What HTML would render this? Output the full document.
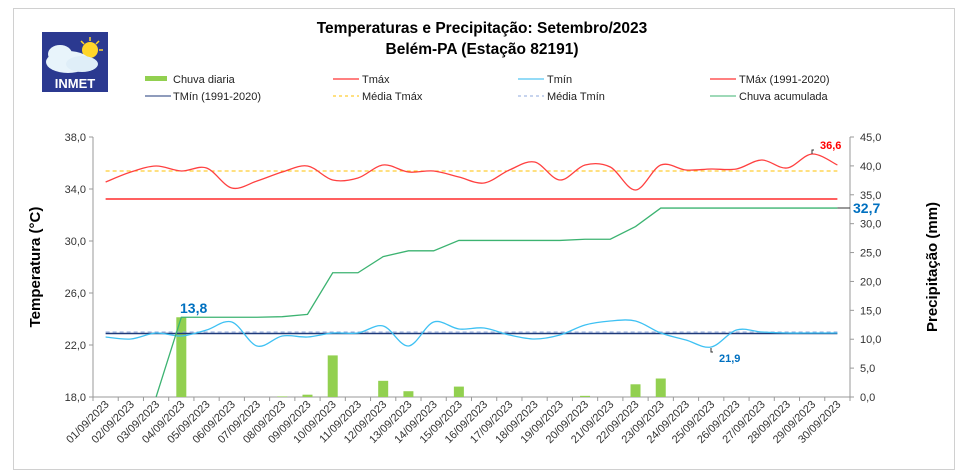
<!DOCTYPE html>
<html><head><meta charset="utf-8"><style>
html,body{margin:0;padding:0;background:#fff;}
svg{display:block;font-family:"Liberation Sans",Arial,sans-serif;}
</style></head><body>
<svg id="s" width="964" height="476" viewBox="0 0 964 476" xmlns="http://www.w3.org/2000/svg">
<rect x="13.5" y="8.5" width="941" height="461" fill="#fff" stroke="#d0d0d0"/>
<!-- logo -->
<rect x="42" y="32" width="66" height="60" fill="#2b3990"/>
<circle cx="90" cy="50" r="8" fill="#ffd52a"/>
<g stroke="#ffd52a" stroke-width="1.5"><line x1="90" y1="37" x2="90" y2="41"/><line x1="99" y1="41" x2="96" y2="44"/><line x1="103" y1="50" x2="99" y2="50"/><line x1="81" y1="41" x2="84" y2="44"/></g>
<ellipse cx="68" cy="62" rx="22" ry="11" fill="#e8f4fb"/><ellipse cx="60" cy="54" rx="12" ry="9" fill="#e8f4fb"/><ellipse cx="82" cy="64" rx="16" ry="8" fill="#dfeef8"/>
<text x="75" y="88" font-size="13" font-weight="bold" fill="#fff" text-anchor="middle">INMET</text>
<text x="482" y="33" font-size="15.5" font-weight="bold" text-anchor="middle" fill="#000">Temperaturas e Precipitação: Setembro/2023</text>
<text x="482" y="54" font-size="15.5" font-weight="bold" text-anchor="middle" fill="#000">Belém-PA (Estação 82191)</text>
<g font-size="11" fill="#222">
<rect x="145" y="76" width="22" height="5" fill="#92d050"/><text x="173" y="83">Chuva diaria</text>
<line x1="333" y1="79" x2="359" y2="79" stroke="#ff0000"/><text x="362" y="83">Tmáx</text>
<line x1="518" y1="79" x2="544" y2="79" stroke="#2ab7ef"/><text x="547" y="83">Tmín</text>
<line x1="710" y1="79" x2="736" y2="79" stroke="#ff0000"/><text x="739" y="83">TMáx (1991-2020)</text>
<line x1="145" y1="96" x2="171" y2="96" stroke="#1f3a7a"/><text x="173" y="100">TMín (1991-2020)</text>
<line x1="333" y1="96" x2="359" y2="96" stroke="#ffc000" stroke-dasharray="3,3"/><text x="362" y="100">Média Tmáx</text>
<line x1="518" y1="96" x2="544" y2="96" stroke="#8fa9dc" stroke-dasharray="3,3"/><text x="547" y="100">Média Tmín</text>
<line x1="710" y1="96" x2="736" y2="96" stroke="#3cb371"/><text x="739" y="100">Chuva acumulada</text>
</g>
<g id="plot"></g>
<text transform="translate(40,267) rotate(-90)" font-size="15" font-weight="bold" text-anchor="middle">Temperatura (°C)</text>
<text transform="translate(937,267) rotate(-90)" font-size="15" font-weight="bold" text-anchor="middle">Precipitação (mm)</text>
</svg>
<script>
var g=document.getElementById('plot'),h='';
var X0=93,X1=850,Y0=137,Y1=397,W=(X1-X0)/30;
function cx(i){return X0+W*(i-0.5);}
function ty(t){return Y1-(t-18)*13;}
function py(p){return Y1-p*(Y1-Y0)/45;}
// axes
h+='<line x1="'+X0+'" y1="'+Y0+'" x2="'+X0+'" y2="'+Y1+'" stroke="#999"/>';
h+='<line x1="'+X1+'" y1="'+Y0+'" x2="'+X1+'" y2="'+Y1+'" stroke="#999"/>';
h+='<line x1="'+X0+'" y1="'+Y1+'" x2="'+X1+'" y2="'+Y1+'" stroke="#999"/>';
for(var t=18;t<=38;t+=4){var y=ty(t);h+='<line x1="'+(X0-4)+'" y1="'+y+'" x2="'+X0+'" y2="'+y+'" stroke="#999"/><text x="'+(X0-7)+'" y="'+(y+4)+'" font-size="11" text-anchor="end" fill="#333">'+t+',0</text>';}
for(var p=0;p<=45;p+=5){var y=py(p);h+='<line x1="'+X1+'" y1="'+y+'" x2="'+(X1+4)+'" y2="'+y+'" stroke="#999"/><text x="'+(X1+10)+'" y="'+(y+4)+'" font-size="11" fill="#333">'+p+',0</text>';}
for(var i=0;i<=30;i++){var x=X0+W*i;h+='<line x1="'+x+'" y1="'+Y1+'" x2="'+x+'" y2="'+(Y1+4)+'" stroke="#999"/>';}
for(var i=1;i<=30;i++){var d=(i<10?'0':'')+i+'/09/2023';var x=cx(i)+4;h+='<text transform="translate('+x+','+(Y1+8)+') rotate(-45)" font-size="11" text-anchor="end" fill="#333">'+d+'</text>';}
// bars
var rain={4:13.8,8:0.1,9:0.4,10:7.2,12:2.8,13:1.0,15:1.8,20:0.2,22:2.2,23:3.2};
for(var k in rain){var x=cx(+k),y=py(rain[k]);h+='<rect x="'+(x-5)+'" y="'+y+'" width="10" height="'+(Y1-y)+'" fill="#92d050"/>';}
// normals
h+='<line x1="'+cx(1)+'" y1="199" x2="'+cx(30)+'" y2="199" stroke="#ff0000" stroke-width="1.3"/>';
h+='<line x1="'+cx(1)+'" y1="171" x2="'+cx(30)+'" y2="171" stroke="#ffc000" stroke-dasharray="4,3"/>';
h+='<line x1="'+cx(1)+'" y1="333.5" x2="'+cx(30)+'" y2="333.5" stroke="#1f3a7a" stroke-width="1.6"/>';
h+='<line x1="'+cx(1)+'" y1="332" x2="'+cx(30)+'" y2="332" stroke="#8fa9dc" stroke-dasharray="4,3"/>';
function smooth(pts){var s='M'+pts[0][0]+','+pts[0][1];for(var i=0;i<pts.length-1;i++){var p0=pts[i-1]||pts[i],p1=pts[i],p2=pts[i+1],p3=pts[i+2]||p2;var c1=[p1[0]+(p2[0]-p0[0])/6,p1[1]+(p2[1]-p0[1])/6],c2=[p2[0]-(p3[0]-p1[0])/6,p2[1]-(p3[1]-p1[1])/6];s+=' C'+c1+' '+c2+' '+p2;}return s;}
var tmax=[182,172,166,171,168,188,181,172,166,180,178,165,172,171,177,183,170,162,180,165,167,190,165,170,169,169,160,168,154,165];
var tmin=[337,339,333,336,330,322,346,336,337,333,333,326,346,322,329,328,335,339,335,325,321,321,333,340,347,330,332,333,333,333];
var p1=tmax.map(function(v,i){return[cx(i+1),v]}),p2=tmin.map(function(v,i){return[cx(i+1),v]});
h+='<path d="'+smooth(p1)+'" fill="none" stroke="#ff4040" stroke-width="1.3"/>';
h+='<path d="'+smooth(p2)+'" fill="none" stroke="#3ec1f3" stroke-width="1.3"/>';
var acc=[0,0,0,13.8,13.8,13.8,13.8,13.9,14.3,21.5,21.5,24.3,25.3,25.3,27.1,27.1,27.1,27.1,27.1,27.3,27.3,29.5,32.7,32.7,32.7,32.7,32.7,32.7,32.7,32.7];
var s='';for(var i=2;i<30;i++){s+=(i==2?'M':'L')+cx(i+1)+','+py(acc[i])+' ';}
h+='<path d="'+s+'" fill="none" stroke="#3cb371" stroke-width="1.3"/>';
// labels
h+='<text x="180" y="313" font-size="14" font-weight="bold" fill="#0070c0">13,8</text>';
h+='<line x1="'+cx(30)+'" y1="208" x2="850" y2="208" stroke="#333"/><text x="853" y="213" font-size="14" font-weight="bold" fill="#0070c0">32,7</text>';
h+='<path d="M812,154 v-4 h2" fill="none" stroke="#333"/><text x="820" y="149" font-size="11" font-weight="bold" fill="#ff0000">36,6</text>';
h+='<path d="M711,348 v4 h2" fill="none" stroke="#333"/><text x="719" y="362" font-size="11" font-weight="bold" fill="#0070c0">21,9</text>';
g.innerHTML=h;
</script>
</body></html>
